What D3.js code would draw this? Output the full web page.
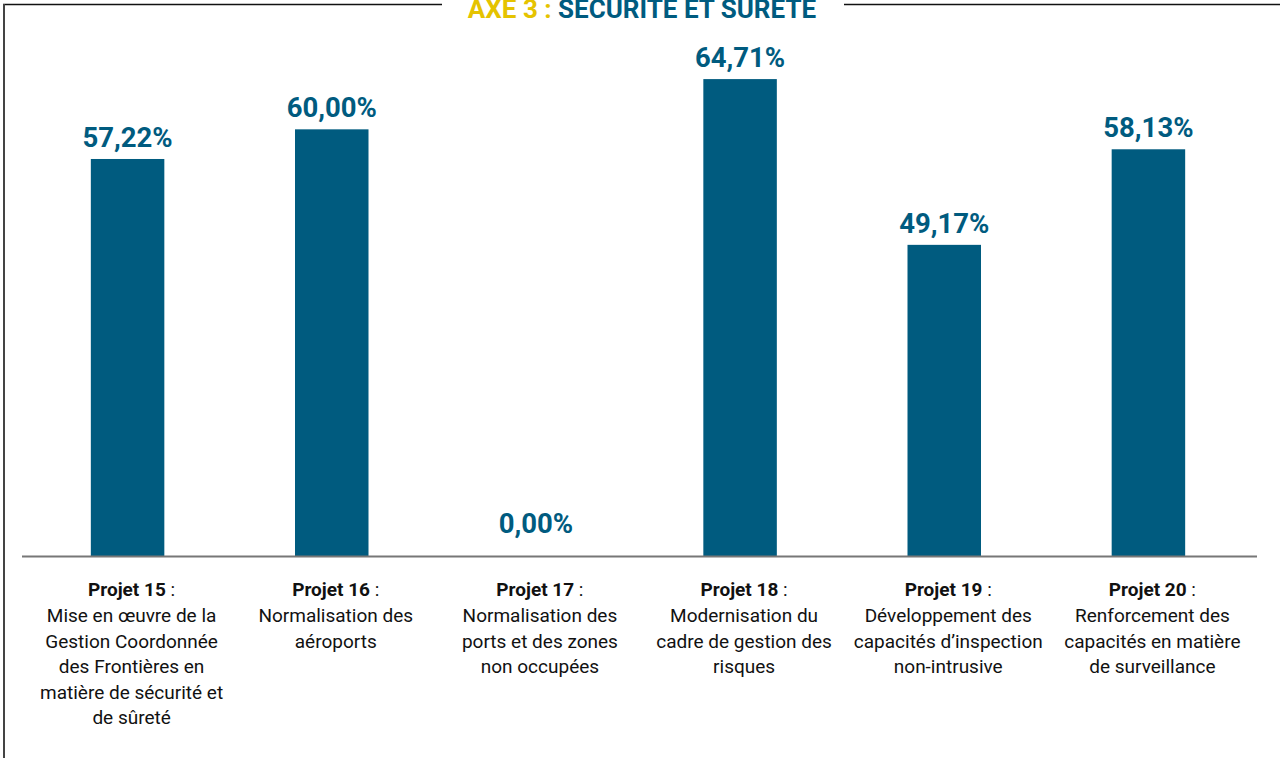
<!DOCTYPE html>
<html>
<head>
<meta charset="utf-8">
<script src="https://cdn.jsdelivr.net/npm/d3@7"></script>
<style>
  html, body { margin: 0; padding: 0; background: #fff; }
  svg { display: block; }
</style>
</head>
<body>
<div id="chart"></div>
<script>
// data
var projets = ["Projet 15", "Projet 16", "Projet 17", "Projet 18", "Projet 19", "Projet 20"];
var valeurs = [57.22, 60.00, 0.00, 64.71, 49.17, 58.13];
var libelles = ["57,22%", "60,00%", "0,00%", "64,71%", "49,17%", "58,13%"];
var descriptions = [
    ["Mise en œuvre de la", "Gestion Coordonnée", "des Frontières en", "matière de sécurité et", "de sûreté"],
    ["Normalisation des", "aéroports"],
    ["Normalisation des", "ports et des zones", "non occupées"],
    ["Modernisation du", "cadre de gestion des", "risques"],
    ["Développement des", "capacités d’inspection", "non-intrusive"],
    ["Renforcement des", "capacités en matière", "de surveillance"]
];
var titre_axe = "AXE 3 : ";
var titre_theme = "SÉCURITÉ ET SÛRETÉ";

var width = 1280,
    height = 758;

var baseline = 556;

var svg = d3.select("#chart")
    .append("svg")
    .attr("width", width)
    .attr("height", height);

// frame (top line broken by the title, left side)
svg.append("line")
    .attr("x1", 3).attr("x2", 442)
    .attr("y1", 4.5).attr("y2", 4.5)
    .attr("stroke", "#111").attr("stroke-width", 1.5);
svg.append("line")
    .attr("x1", 844).attr("x2", width)
    .attr("y1", 4.5).attr("y2", 4.5)
    .attr("stroke", "#111").attr("stroke-width", 1.5);
svg.append("line")
    .attr("x1", 4).attr("x2", 4)
    .attr("y1", 4).attr("y2", height)
    .attr("stroke", "#444").attr("stroke-width", 2);

// title, cut by the top of the picture
var title = svg.append("text")
    .attr("x", 642)
    .attr("y", 18)
    .attr("text-anchor", "middle")
    .style("font-family", "Roboto, 'Liberation Sans', sans-serif")
    .style("font-weight", 700)
    .style("font-size", "26px");
title.append("tspan").attr("fill", "#e5c300").text(titre_axe);
title.append("tspan").attr("fill", "#005b7f").text(titre_theme);

// scales
var x = d3.scaleBand()
    .domain(projets)
    .range([25.5, 1250.5])
    .paddingInner(0.64)
    .paddingOuter(0.32);

var y = d3.scaleLinear()
    .domain([20, 65])
    .range([baseline, 76])
    .clamp(true);

var g = svg.append("g");

// bars
g.selectAll("rect.bar")
    .data(valeurs)
    .enter()
    .append("rect")
    .attr("class", "bar")
    .attr("x", function(d, i) { return x(projets[i]); })
    .attr("y", function(d) { return y(d); })
    .attr("width", x.bandwidth())
    .attr("height", function(d) { return baseline - y(d); })
    .attr("fill", "#005b7f");

// value labels
g.selectAll("text.valeur")
    .data(valeurs)
    .enter()
    .append("text")
    .attr("class", "valeur")
    .attr("x", function(d, i) { return x(projets[i]) + x.bandwidth() / 2; })
    .attr("y", function(d) { return Math.min(y(d), baseline - 11) - 12; })
    .attr("text-anchor", "middle")
    .attr("fill", "#005b7f")
    .style("font-family", "Roboto, 'Liberation Sans', sans-serif")
    .style("font-weight", 700)
    .style("font-size", "27.5px")
    .text(function(d, i) { return libelles[i]; });

// x axis line
svg.append("line")
    .attr("x1", 22).attr("x2", 1257)
    .attr("y1", baseline + 0.5).attr("y2", baseline + 0.5)
    .attr("stroke", "#777").attr("stroke-width", 2);

// category labels
var cat = g.selectAll("g.cat")
    .data(projets)
    .enter()
    .append("g")
    .attr("class", "cat")
    .attr("transform", function(d) {
        return "translate(" + (x(d) + x.bandwidth() / 2 + 4) + ",0)";
    });

cat.each(function(d, i) {
    var t = d3.select(this).append("text")
        .attr("text-anchor", "middle")
        .attr("fill", "#111")
        .style("font-family", "Roboto, 'Liberation Sans', sans-serif")
        .style("font-size", "19px");
    var first = t.append("tspan").attr("x", 0).attr("y", 596);
    first.append("tspan").style("font-weight", 700).text(d);
    first.append("tspan").text(" :");
    descriptions[i].forEach(function(line, k) {
        t.append("tspan")
            .attr("x", 0)
            .attr("y", 622 + k * 25.5)
            .text(line);
    });
});
</script>
</body>
</html>
